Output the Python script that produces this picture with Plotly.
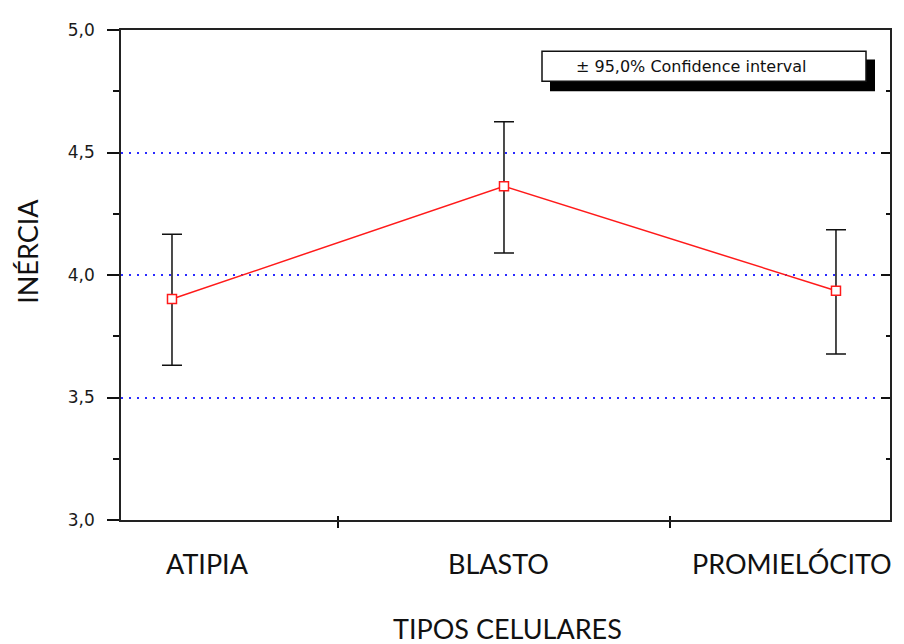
import plotly.graph_objects as go

categories = ["ATIPIA", "BLASTO", "PROMIELÓCITO"]
means = [3.902, 4.362, 3.936]
ci_upper = [4.166, 4.626, 4.185]
ci_lower = [3.632, 4.090, 3.678]
y_ticks = [3.0, 3.5, 4.0, 4.5, 5.0]
y_ticktext = ["3,0", "3,5", "4,0", "4,5", "5,0"]
legend_text = "± 95,0% Confidence interval"
x_title = "TIPOS CELULARES"
y_title = "INÉRCIA"

xpos = list(range(len(categories)))
err_plus = [u - m for u, m in zip(ci_upper, means)]
err_minus = [m - l for m, l in zip(means, ci_lower)]

# page body has an 8px margin: shift everything to compensate
OFF = 8
W, H = 904 - OFF, 644 - OFF
L, R, T, B = 121 - OFF, 14, 23 - OFF, 124
pw, ph = W - L - R, H - T - B

def px(x):
    return (x - OFF - L) / pw

def py(y):
    return (H - B - (y - OFF)) / ph

fig = go.Figure()
fig.add_trace(go.Scatter(
    x=xpos, y=means, mode="lines+markers",
    line=dict(color="#ff1a1a", width=1.5),
    marker=dict(symbol="square", size=9, color="white",
                line=dict(color="#ff1a1a", width=1.5)),
    error_y=dict(type="data", symmetric=False, array=err_plus, arrayminus=err_minus,
                 color="#111111", thickness=1.5, width=10),
    showlegend=False, hoverinfo="skip",
))
fig.add_trace(go.Scatter(x=[xpos[0]], y=[means[0]], xaxis="x2", yaxis="y2",
                         mode="markers", marker=dict(opacity=0), showlegend=False,
                         hoverinfo="skip"))

xr = [-0.1536, 2.1627]
fig.update_layout(
    width=W, height=H, margin=dict(l=L, r=R, t=T, b=B),
    paper_bgcolor="white", plot_bgcolor="white",
    xaxis=dict(range=xr, tickvals=[0.5, 1.5], showticklabels=False,
               ticks="outside", ticklen=6, tickwidth=1.5, tickcolor="#111",
               showline=True, linecolor="#222", linewidth=1.5, mirror=True,
               showgrid=False, zeroline=False),
    xaxis2=dict(range=xr, overlaying="x", side="bottom", tickvals=[0.5, 1.5],
                showticklabels=False, ticks="inside", ticklen=4, tickwidth=1.5,
                tickcolor="#111", showline=False, showgrid=False, zeroline=False),
    yaxis=dict(range=[3, 5], tickvals=y_ticks, ticktext=y_ticktext,
               ticks="outside", ticklen=12, tickwidth=1.5, tickcolor="#111",
               tickfont=dict(family="DejaVu Sans", size=17, color="#1a1a1a"),
               ticklabelstandoff=9,
               minor=dict(dtick=0.25, tick0=3, ticks="outside", ticklen=6,
                          tickwidth=1.5, tickcolor="#111", showgrid=False),
               showline=True, linecolor="#222", linewidth=1.5,
               showgrid=True, gridcolor="#2a2aff", gridwidth=1.5, griddash="1.5px,6.5px",
               zeroline=False),
    yaxis2=dict(range=[3, 5], overlaying="y", side="right", tickvals=y_ticks,
                showticklabels=False, ticks="inside", ticklen=9, tickwidth=1.5,
                tickcolor="#111",
                minor=dict(dtick=0.25, tick0=3, ticks="inside", ticklen=4,
                           tickwidth=1.5, tickcolor="#111", showgrid=False),
                showline=True, linecolor="#222", linewidth=1.5,
                showgrid=False, zeroline=False),
    shapes=[
        dict(type="rect", xref="paper", yref="paper",
             x0=px(550), x1=px(875), y0=py(85), y1=py(53),
             fillcolor="black", line=dict(width=0), layer="above"),
        dict(type="rect", xref="paper", yref="paper",
             x0=px(542), x1=px(866), y0=py(75), y1=py(44.5),
             fillcolor="white", line=dict(color="#111", width=1.5), layer="above"),
    ],
)

lab_font = dict(family="Lato", size=27, color="#111")
label_x = [207, 498, 792]
annotations = []
for name, lx in zip(categories, label_x):
    annotations.append(dict(text=name, xref="paper", yref="paper", x=px(lx), y=py(564),
                            xanchor="center", yanchor="middle", showarrow=False,
                            font=lab_font))
annotations.append(dict(text=x_title, xref="paper", yref="paper", x=px(507), y=py(630),
                        xanchor="center", yanchor="middle", showarrow=False, font=lab_font))
annotations.append(dict(text=y_title, xref="paper", yref="paper", x=px(28), y=py(248),
                        xanchor="center", yanchor="middle", showarrow=False,
                        textangle=-90, font=lab_font))
annotations.append(dict(text=legend_text, xref="paper", yref="paper", x=px(574), y=py(60),
                        xanchor="left", yanchor="middle", showarrow=False,
                        font=dict(family="DejaVu Sans", size=16, color="#111")))
fig.update_layout(annotations=annotations)

fig.write_html("out.html")
